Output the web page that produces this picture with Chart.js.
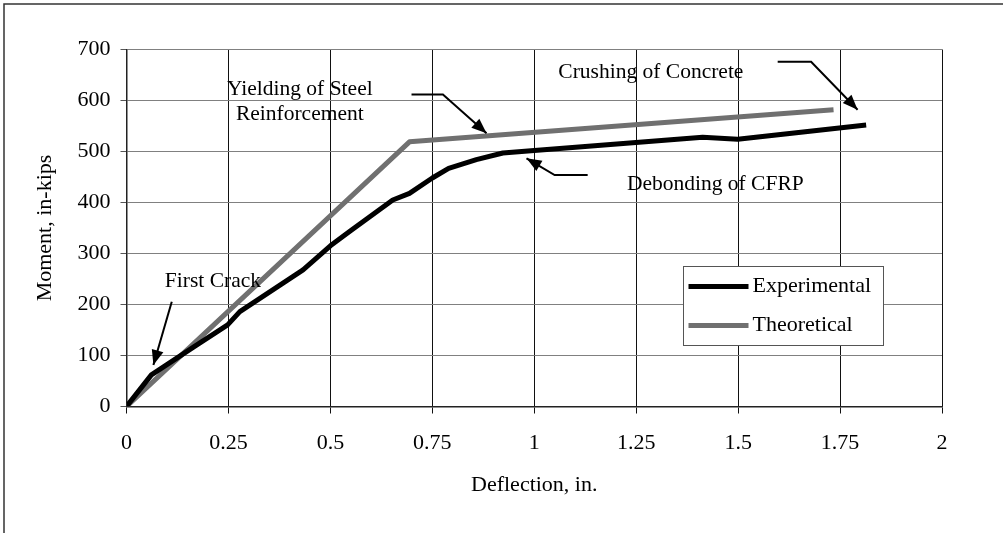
<!DOCTYPE html>
<html><head><meta charset="utf-8">
<script src="https://cdn.jsdelivr.net/npm/chart.js@4/dist/chart.umd.min.js"></script>
<style>html,body{margin:0;padding:0;background:#fff;} #wrap{width:1003px;height:533px;position:relative;}</style>
</head><body><div id="wrap"><canvas id="c" width="1003" height="533"></canvas></div>
<script>
// ---- data ----
const expDeflection = [0, 0.061, 0.167, 0.248, 0.278, 0.433, 0.5, 0.547, 0.653, 0.694, 0.75, 0.79, 0.858, 0.923, 1.0, 1.413, 1.499, 1.814];
const expMoment     = [0, 62, 118, 160, 186, 268, 315, 343, 405, 418, 448, 467, 484, 497, 502, 528, 524, 552];
const theoDeflection = [0, 0.694, 1.734];
const theoMoment     = [0, 519, 582];
const xTickValues = [0, 0.25, 0.5, 0.75, 1, 1.25, 1.5, 1.75, 2];
const yTickValues = [0, 100, 200, 300, 400, 500, 600, 700];
const seriesNames = ['Experimental', 'Theoretical'];
const xTitle = 'Deflection, in.';
const yTitle = 'Moment, in-kips';
// annotation labels (anchored in data units)
const noteTexts  = [['First Crack'], ['Yielding of Steel', 'Reinforcement'], ['Crushing of Concrete'], ['Debonding of CFRP']];
const noteAnchor = [[0.212, 246], [0.425, 598], [1.286, 655], [1.444, 436]];
const noteArrows = [
  [[0.111, 205.5], [0.066, 81.4]],
  [[0.699, 612], [0.776, 612], [0.883, 535.7]],
  [[1.597, 676], [1.679, 676], [1.793, 582]],
  [[1.131, 453.9], [1.050, 453.9], [0.981, 486.7]]
];

const FONT = 'Liberation Serif, Times New Roman, serif';
const COLORS = ['#000000', '#707070'];

const framePlugin = {
  id: 'frame',
  beforeDraw(chart) {
    const c = chart.ctx;
    c.save();
    c.fillStyle = '#fff';
    c.fillRect(0, 0, chart.width, chart.height);
    c.strokeStyle = '#333';
    c.lineWidth = 1.5;
    c.beginPath();
    c.moveTo(4, chart.height + 5);
    c.lineTo(4, 4);
    c.lineTo(chart.width + 5, 4);
    c.stroke();
    c.restore();
  }
};

function arrowHead(c, from, to) {
  const ang = Math.atan2(to[1] - from[1], to[0] - from[0]);
  const L = 15, W = 6;
  c.beginPath();
  c.moveTo(to[0], to[1]);
  c.lineTo(to[0] - L * Math.cos(ang) + W * Math.sin(ang), to[1] - L * Math.sin(ang) - W * Math.cos(ang));
  c.lineTo(to[0] - L * Math.cos(ang) - W * Math.sin(ang), to[1] - L * Math.sin(ang) + W * Math.cos(ang));
  c.closePath();
  c.fill();
}

const notePlugin = {
  id: 'notes',
  afterDatasetsDraw(chart) {
    const c = chart.ctx, xs = chart.scales.x, ys = chart.scales.y;
    c.save();
    c.fillStyle = '#000';
    c.strokeStyle = '#000';
    c.font = '21.5px ' + FONT;
    c.textAlign = 'center';
    c.textBaseline = 'middle';
    noteTexts.forEach((lines, i) => {
      const px = xs.getPixelForValue(noteAnchor[i][0]);
      const py = ys.getPixelForValue(noteAnchor[i][1]);
      const lh = 25;
      lines.forEach((t, k) => {
        c.fillText(t, px, py + (k - (lines.length - 1) / 2) * lh);
      });
      const pts = noteArrows[i].map(p => [xs.getPixelForValue(p[0]), ys.getPixelForValue(p[1])]);
      c.lineWidth = 2;
      c.beginPath();
      pts.forEach((p, k) => k ? c.lineTo(p[0], p[1]) : c.moveTo(p[0], p[1]));
      c.stroke();
      arrowHead(c, pts[pts.length - 2], pts[pts.length - 1]);
    });
    c.restore();
  }
};

const legendPlugin = {
  id: 'boxLegend',
  afterDraw(chart) {
    const c = chart.ctx;
    const x0 = 683.5, y0 = 266.5, w = 200, h = 79;
    c.save();
    c.fillStyle = '#fff';
    c.fillRect(x0, y0, w, h);
    c.strokeStyle = '#555';
    c.lineWidth = 1;
    c.strokeRect(x0, y0, w, h);
    c.font = '22px ' + FONT;
    c.textAlign = 'left';
    c.textBaseline = 'middle';
    chart.data.datasets.forEach((ds, i) => {
      const yy = y0 + 20 + i * 39;
      c.strokeStyle = ds.borderColor;
      c.lineWidth = 5;
      c.beginPath();
      c.moveTo(x0 + 5, yy);
      c.lineTo(x0 + 65, yy);
      c.stroke();
      c.fillStyle = '#000';
      c.fillText(ds.label, x0 + 69, yy);
    });
    c.restore();
  }
};

new Chart(document.getElementById('c'), {
  type: 'scatter',
  data: {
    datasets: [
      { label: seriesNames[0], data: expDeflection.map((x, i) => ({ x, y: expMoment[i] })),
        showLine: true, borderColor: COLORS[0], backgroundColor: COLORS[0], borderWidth: 5,
        pointRadius: 0, tension: 0, borderJoinStyle: 'round' },
      { label: seriesNames[1], data: theoDeflection.map((x, i) => ({ x, y: theoMoment[i] })),
        showLine: true, borderColor: COLORS[1], backgroundColor: COLORS[1], borderWidth: 5,
        pointRadius: 0, tension: 0, borderJoinStyle: 'round' }
    ]
  },
  options: {
    responsive: false, animation: false, devicePixelRatio: 1,
    layout: { padding: { top: 49.5, right: 61, left: 0, bottom: 0 } },
    plugins: { legend: { display: false }, tooltip: { enabled: false } },
    scales: {
      x: {
        type: 'linear', min: 0, max: 2,
        afterBuildTicks: s => { s.ticks = xTickValues.map(v => ({ value: v })); },
        afterFit: s => { s.height = 126.5; },
        grid: { color: '#111', lineWidth: 1, tickLength: 7, tickColor: '#111' },
        border: { color: '#222', width: 1.5 },
        ticks: { font: { family: FONT, size: 22 }, color: '#000', padding: 17, maxRotation: 0, autoSkip: false,
                 callback: v => String(v) },
        title: { display: true, text: xTitle, color: '#000', font: { family: FONT, size: 22 }, padding: { top: 0, bottom: 35 } }
      },
      y: {
        type: 'linear', min: 0, max: 700,
        afterBuildTicks: s => { s.ticks = yTickValues.map(v => ({ value: v })); },
        afterFit: s => { s.width = 126.5; },
        grid: { color: '#808080', lineWidth: 1, tickLength: 6, tickColor: '#555' },
        border: { color: '#222', width: 1.5 },
        ticks: { font: { family: FONT, size: 22 }, color: '#000', padding: 10, callback: v => String(v) },
        title: { display: true, text: yTitle, color: '#000', font: { family: FONT, size: 22 }, padding: { top: 32, bottom: 0 } }
      }
    }
  },
  plugins: [framePlugin, notePlugin, legendPlugin]
});
</script></body></html>
